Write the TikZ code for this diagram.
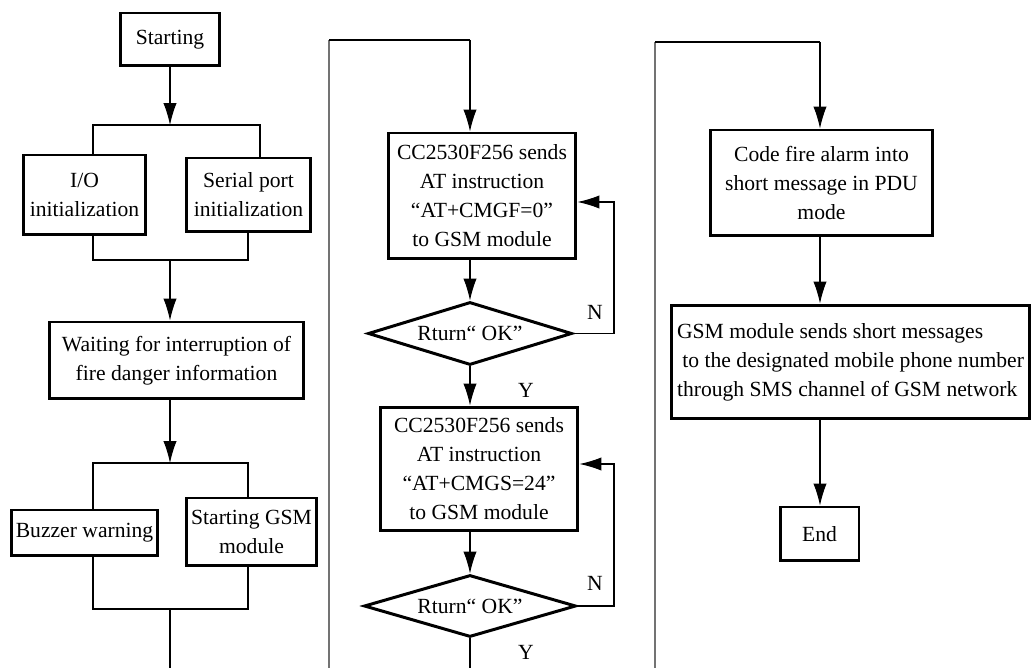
\documentclass[tikz,border=0pt]{standalone}
\usepackage{fontspec}
\setmainfont{Liberation Serif}
\usetikzlibrary{shapes.geometric}
\usetikzlibrary{arrows.meta}

\begin{document}
\begin{tikzpicture}[x=0.02cm,y=-0.02cm,
  font=\fontsize{12.3}{16.5}\selectfont,
  box/.style={draw,line width=1.7pt,align=center,inner sep=1pt},
  test/.style={draw,diamond,aspect=3.3,line width=1.7pt,inner sep=0pt},
  link/.style={line width=0.6pt},
  arr/.style={line width=0.6pt,-{Latex[length=12.5pt,width=7.6pt]}},
  back/.style={line width=0.8pt,black!55}]
  \useasboundingbox (0,0) rectangle (1032,668);

  % first column
  \node [box,minimum width=2cm,minimum height=1.06cm]    (start)  at (170,39.5)  {Starting};
  \node [box,minimum width=2.46cm,minimum height=1.6cm]  (io)     at (84.5,195)  {I/O\\initialization};
  \node [box,minimum width=2.5cm,minimum height=1.48cm]  (serial) at (248.5,195) {Serial port\\initialization};
  \node [box,minimum width=5.1cm,minimum height=1.54cm]  (wait)   at (176.5,360.5) {Waiting for interruption of\\fire danger information};
  \node [box,minimum width=2.94cm,minimum height=0.92cm] (buzz)   at (84.5,533)  {Buzzer warning};
  \node [box,minimum width=2.62cm,minimum height=1.36cm] (gsmon)  at (251.5,532) {Starting GSM\\module};

  \coordinate (s1)  at (170,125);
  \coordinate (s1l) at (93,125);
  \coordinate (s1r) at (260,125);
  \coordinate (m1)  at (170,260);
  \coordinate (m1l) at (93,260);
  \coordinate (m1r) at (248,260);
  \coordinate (s2)  at (170,463);
  \coordinate (s2l) at (93,463);
  \coordinate (s2r) at (248,463);
  \coordinate (m2)  at (170,609);
  \coordinate (m2l) at (93,609);
  \coordinate (m2r) at (248,609);
  \coordinate (out1) at (170,668);

  \draw [arr] (start) -- (s1);
  \draw [link] (io.north -| s1l) -- (s1l) -- (s1r) -- (serial.north -| s1r);
  \draw [link] (io.south -| m1l) -- (m1l) -- (m1r) -- (serial.south -| m1r);
  \draw [arr] (m1) -- (m1 |- wait.north);
  \draw [arr] (wait.south -| s2) -- (s2);
  \draw [link] (buzz.north -| s2l) -- (s2l) -- (s2r) -- (gsmon.north -| s2r);
  \draw [link] (buzz.south -| m2l) -- (m2l) -- (m2r) -- (gsmon.south -| m2r);
  \draw [link] (m2) -- (out1);

  % second column
  \node [box,minimum width=3.76cm,minimum height=2.52cm] (cmgf) at (482,196) {CC2530F256 sends\\AT instruction\\“AT+CMGF=0”\\to GSM module};
  \node [test,minimum width=4.08cm,minimum height=1.26cm] (ok1) at (470,333.5) {Rturn“ OK”};
  \node [box,minimum width=3.96cm,minimum height=2.48cm] (cmgs) at (479,469) {CC2530F256 sends\\AT instruction\\“AT+CMGS=24”\\to GSM module};
  \node [test,minimum width=4.24cm,minimum height=1.24cm] (ok2) at (470,606) {Rturn“ OK”};
  \node (n1) at (595,312) {N};
  \node (y1) at (526,390) {Y};
  \node (n2) at (595,583) {N};
  \node (y2) at (526,652) {Y};

  \coordinate (in2)  at (329,668);
  \coordinate (top2) at (470,40);
  \coordinate (loop1) at (614,202);
  \coordinate (loop2) at (614,464);
  \coordinate (out2) at (470,668);

  \draw [back] (in2) -- (in2 |- top2);
  \draw [link] (in2 |- top2) -- (top2);
  \draw [arr] (top2) -- (top2 |- cmgf.north);
  \draw [arr] (ok1.north |- cmgf.south) -- (ok1.north);
  \draw [arr] (ok1.east) -| (loop1) -- (cmgf.east |- loop1);
  \draw [arr] (ok1.south) -- (ok1.south |- cmgs.north);
  \draw [arr] (ok2.north |- cmgs.south) -- (ok2.north);
  \draw [arr] (ok2.east) -| (loop2) -- (cmgs.east |- loop2);
  \draw [link] (ok2.south) -- (out2);

  % third column
  \node [box,minimum width=4.46cm,minimum height=2.12cm] (code) at (821.5,183) {Code fire alarm into\\short message in PDU\\mode};
  \node [box,align=left,minimum width=7.18cm,minimum height=2.28cm] (sms) at (850.5,362) {GSM module sends short messages\\\ to the designated mobile phone number\\through SMS channel of GSM network};
  \node [box,minimum width=1.58cm,minimum height=1.08cm] (stop) at (819.5,534) {End};

  \coordinate (in3)  at (655,668);
  \coordinate (top3) at (820,42);

  \draw [back] (in3) -- (in3 |- top3);
  \draw [link] (in3 |- top3) -- (top3);
  \draw [arr] (top3) -- (top3 |- code.north);
  \draw [arr] (top3 |- code.south) -- (top3 |- sms.north);
  \draw [arr] (top3 |- sms.south) -- (top3 |- stop.north);
\end{tikzpicture}
\end{document}
